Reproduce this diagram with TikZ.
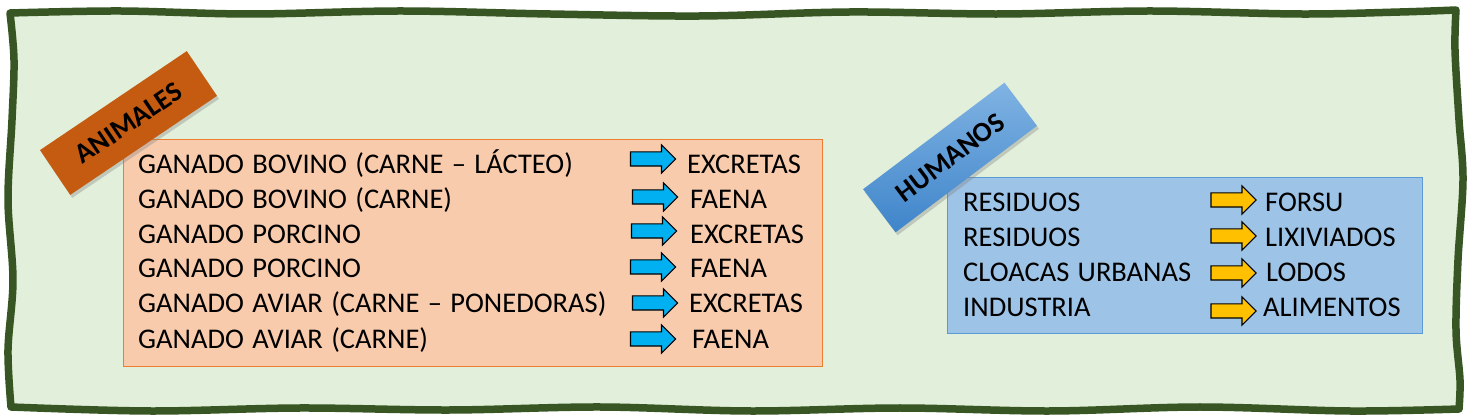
\documentclass[tikz,border=0pt]{standalone}
\usepackage{fontspec}
\setmainfont{Carlito}[WordSpace=1.3]
\usetikzlibrary{shapes.arrows,shadows}
\definecolor{framegreen}{HTML}{375623}
\definecolor{framefill}{HTML}{E2EFDA}
\definecolor{orfill}{HTML}{F8CBAD}
\definecolor{ordraw}{HTML}{ED7D31}
\definecolor{blfill}{HTML}{9DC3E6}
\definecolor{bldraw}{HTML}{5B9BD5}
\definecolor{animfill}{HTML}{C55A11}
\definecolor{humtop}{HTML}{80B3E3}
\definecolor{humbot}{HTML}{3F85CA}
\definecolor{arrblue}{HTML}{00B0F0}
\definecolor{arryel}{HTML}{FFC000}
\begin{document}
\begin{tikzpicture}[x=1pt,y=-1pt,
  row/.style={anchor=base west, inner sep=0pt, font=\fontsize{28.5}{28.5}\selectfont},
  blockarrow/.style={single arrow, draw=black, line width=1.1pt, inner sep=6.5pt,
    single arrow head extend=7pt, minimum height=45pt, single arrow head indent=0pt},
  lab/.style={inner sep=0pt, minimum width=177pt, minimum height=54pt,
    font=\fontsize{28}{28}\selectfont\bfseries,
    drop shadow={opacity=0.35, shadow xshift=2pt, shadow yshift=-3pt}}]
\useasboundingbox (0,0) rectangle (1468,419);
% wavy frame
\draw[framegreen, line width=7.5pt, fill=framefill, line join=round]
  plot[smooth, tension=0.55] coordinates {
  (10,13) (120,11) (250,14) (400,11) (550,14) (700,16) (850,12) (1000,14)
  (1150,11) (1300,14) (1400,12) (1456,10)}
  -- plot[smooth, tension=0.55] coordinates {
  (1456,10) (1455,50) (1459,120) (1463,180) (1458,260) (1456,330) (1460,380) (1459,409)}
  -- plot[smooth, tension=0.55] coordinates {
  (1459,409) (1350,411) (1200,407) (1050,411) (900,408) (750,411) (600,407) (450,410)
  (300,408) (150,411) (11,407)}
  -- plot[smooth, tension=0.55] coordinates {
  (11,407) (8,350) (13,280) (8,200) (12,120) (14,60) (10,13)} -- cycle;
% boxes
\node[draw=ordraw, fill=orfill, line width=1.3pt, inner sep=0pt, anchor=north west,
  minimum width=699pt, minimum height=227pt] (anbox) at (123,139) {};
\node[draw=bldraw, fill=blfill, line width=1.3pt, inner sep=0pt, anchor=north west,
  minimum width=475pt, minimum height=156pt] (hubox) at (947,177) {};
% labels
\node[lab, fill=animfill, rotate=34] (animales) at (128.5,123) {ANIMALES};
\node[lab, top color=humtop, bottom color=humbot, rotate=37] (humanos) at (950,157.5) {HUMANOS};
% animal rows
\node[row] (a1) at (138,173.3) {GANADO BOVINO (CARNE – LÁCTEO)};
\node[row] (a2) at (138,208.3) {GANADO BOVINO (CARNE)};
\node[row] (a3) at (138,243.3) {GANADO PORCINO};
\node[row] (a4) at (138,278) {GANADO PORCINO};
\node[row] (a5) at (138,313) {GANADO AVIAR (CARNE – PONEDORAS)};
\node[row] (a6) at (138,348.3) {GANADO AVIAR (CARNE)};
\node[blockarrow, fill=arrblue] (ar1) at (649.5,159) {};
\node[blockarrow, fill=arrblue] (ar2) at (651.5,197) {};
\node[blockarrow, fill=arrblue] (ar3) at (650.5,231) {};
\node[blockarrow, fill=arrblue] (ar4) at (649.5,267) {};
\node[blockarrow, fill=arrblue] (ar5) at (651.5,303) {};
\node[blockarrow, fill=arrblue] (ar6) at (649.5,339) {};
\node[row] (b1) at (687,173.3) {EXCRETAS};
\node[row] (b2) at (690,208.3) {FAENA};
\node[row] (b3) at (690,243.3) {EXCRETAS};
\node[row] (b4) at (690,278) {FAENA};
\node[row] (b5) at (689,313) {EXCRETAS};
\node[row] (b6) at (692,348.3) {FAENA};
% human rows
\node[row] (h1) at (963,211.7) {RESIDUOS};
\node[row] (h2) at (963,246.5) {RESIDUOS};
\node[row] (h3) at (963,281.5) {CLOACAS URBANAS};
\node[row] (h4) at (963,316.5) {INDUSTRIA};
\node[blockarrow, fill=arryel] (hr1) at (1230,200) {};
\node[blockarrow, fill=arryel] (hr2) at (1230,236) {};
\node[blockarrow, fill=arryel] (hr3) at (1230,273) {};
\node[blockarrow, fill=arryel] (hr4) at (1230,311) {};
\node[row] (g1) at (1265,211.7) {FORSU};
\node[row] (g2) at (1265,246.5) {LIXIVIADOS};
\node[row] (g3) at (1266,281.5) {LODOS};
\node[row] (g4) at (1263,316.5) {ALIMENTOS};
\end{tikzpicture}
\end{document}
